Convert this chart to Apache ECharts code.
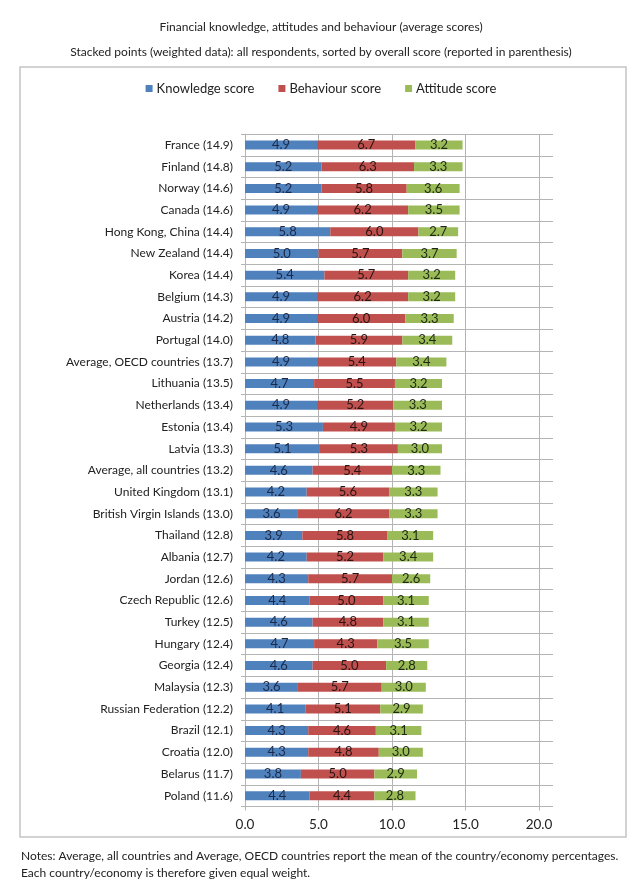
<!DOCTYPE html>
<html>
<head>
<meta charset="utf-8">
<script src="https://cdn.jsdelivr.net/npm/echarts@6/dist/echarts.min.js"></script>
<style>html,body{margin:0;padding:0;background:#fff;}#c{width:642px;height:895px;}</style>
</head>
<body>
<div id="c"></div>
<script>
const countries = ["France","Finland","Norway","Canada","Hong Kong, China","New Zealand","Korea","Belgium","Austria","Portugal","Average, OECD countries","Lithuania","Netherlands","Estonia","Latvia","Average, all countries","United Kingdom","British Virgin Islands","Thailand","Albania","Jordan","Czech Republic","Turkey","Hungary","Georgia","Malaysia","Russian Federation","Brazil","Croatia","Belarus","Poland"];
const overall = ["14.9","14.8","14.6","14.6","14.4","14.4","14.4","14.3","14.2","14.0","13.7","13.5","13.4","13.4","13.3","13.2","13.1","13.0","12.8","12.7","12.6","12.6","12.5","12.4","12.4","12.3","12.2","12.1","12.0","11.7","11.6"];
const knowledge = [4.9,5.2,5.2,4.9,5.8,5.0,5.4,4.9,4.9,4.8,4.9,4.7,4.9,5.3,5.1,4.6,4.2,3.6,3.9,4.2,4.3,4.4,4.6,4.7,4.6,3.6,4.1,4.3,4.3,3.8,4.4];
const behaviour = [6.7,6.3,5.8,6.2,6.0,5.7,5.7,6.2,6.0,5.9,5.4,5.5,5.2,4.9,5.3,5.4,5.6,6.2,5.8,5.2,5.7,5.0,4.8,4.3,5.0,5.7,5.1,4.6,4.8,5.0,4.4];
const attitude = [3.2,3.3,3.6,3.5,2.7,3.7,3.2,3.2,3.3,3.4,3.4,3.2,3.3,3.2,3.0,3.3,3.3,3.3,3.1,3.4,2.6,3.1,3.1,3.5,2.8,3.0,2.9,3.1,3.0,2.9,2.8];
const xTicks = [0, 5, 10, 15, 20];
const seriesNames = ["Knowledge score","Behaviour score","Attitude score"];

const categories = countries.map((c, i) => c + " (" + overall[i] + ")");
const FONT = "Lato, 'Open Sans', sans-serif";
const gridColor = "#b4b4b4";

const chart = echarts.init(document.getElementById('c'), null, {renderer: 'canvas'});
function lbl(color) {
  return {show: true, position: 'inside', formatter: p => p.value.toFixed(1), color: color, fontSize: 13, fontFamily: FONT};
}
const tStyle = {fontSize: 12, fontWeight: 'normal', color: '#222', fontFamily: FONT};
chart.setOption({
  backgroundColor: '#fff',
  animation: false,
  title: [
    {text: 'Financial knowledge, attitudes and behaviour (average scores)', left: 'center', top: 16, textStyle: tStyle},
    {text: 'Stacked points (weighted data): all respondents, sorted by overall score (reported in parenthesis)', left: 'center', top: 41, textStyle: tStyle},
    {text: 'Notes: Average, all countries and Average, OECD countries report the mean of the country/economy percentages.', left: 16, top: 845, textStyle: tStyle},
    {text: 'Each country/economy is therefore given equal weight.', left: 16, top: 862, textStyle: tStyle}
  ],
  graphic: [{type: 'rect', shape: {x: 20, y: 67, width: 606, height: 770}, style: {fill: 'none', stroke: '#c4c4c4', lineWidth: 1.5}, z: -10}],
  legend: {
    data: seriesNames, left: 'center', top: 77, icon: 'rect', itemWidth: 7, itemHeight: 7, itemGap: 24,
    textStyle: {fontSize: 13, color: '#222', fontFamily: FONT, padding: [0, 0, 0, -1]}
  },
  grid: [
    {left: 245, top: 134.2, width: 294, height: 672.3, containLabel: false},
    {left: 245, top: 134.2, width: 308, height: 672.3, containLabel: false}
  ],
  xAxis: [
    {type: 'value', gridIndex: 0, min: 0, max: 20, interval: 5,
     axisLine: {show: false}, axisTick: {show: true, length: 4, lineStyle: {color: gridColor}},
     axisLabel: {formatter: v => xTicks.indexOf(v) >= 0 ? v.toFixed(1) : '', fontSize: 13.5, color: '#222', fontFamily: FONT, margin: 11},
     splitLine: {show: true, lineStyle: {color: gridColor, width: 1}}},
    {type: 'value', gridIndex: 1, min: 0, max: 21, show: false}
  ],
  yAxis: [
    {type: 'category', gridIndex: 0, data: categories, inverse: true,
     axisLine: {show: true, lineStyle: {color: gridColor}}, axisTick: {show: true, length: 4, lineStyle: {color: gridColor}},
     axisLabel: {fontSize: 12, color: '#222', fontFamily: FONT, margin: 12},
     splitLine: {show: false}},
    {type: 'category', gridIndex: 1, data: categories, inverse: true,
     axisLine: {show: false}, axisTick: {show: false}, axisLabel: {show: false},
     splitLine: {show: true, lineStyle: {color: gridColor, width: 1}}}
  ],
  series: [
    {name: seriesNames[0], type: 'bar', stack: 't', data: knowledge, barWidth: 9, itemStyle: {color: '#4f81bd'}, label: lbl('#1b2a4a'), xAxisIndex: 0, yAxisIndex: 0},
    {name: seriesNames[1], type: 'bar', stack: 't', data: behaviour, barWidth: 9, itemStyle: {color: '#c0504d'}, label: lbl('#2a1414'), xAxisIndex: 0, yAxisIndex: 0},
    {name: seriesNames[2], type: 'bar', stack: 't', data: attitude, barWidth: 9, itemStyle: {color: '#9bbb59'}, label: lbl('#1e2a10'), xAxisIndex: 0, yAxisIndex: 0}
  ]
});
</script>
</body>
</html>
